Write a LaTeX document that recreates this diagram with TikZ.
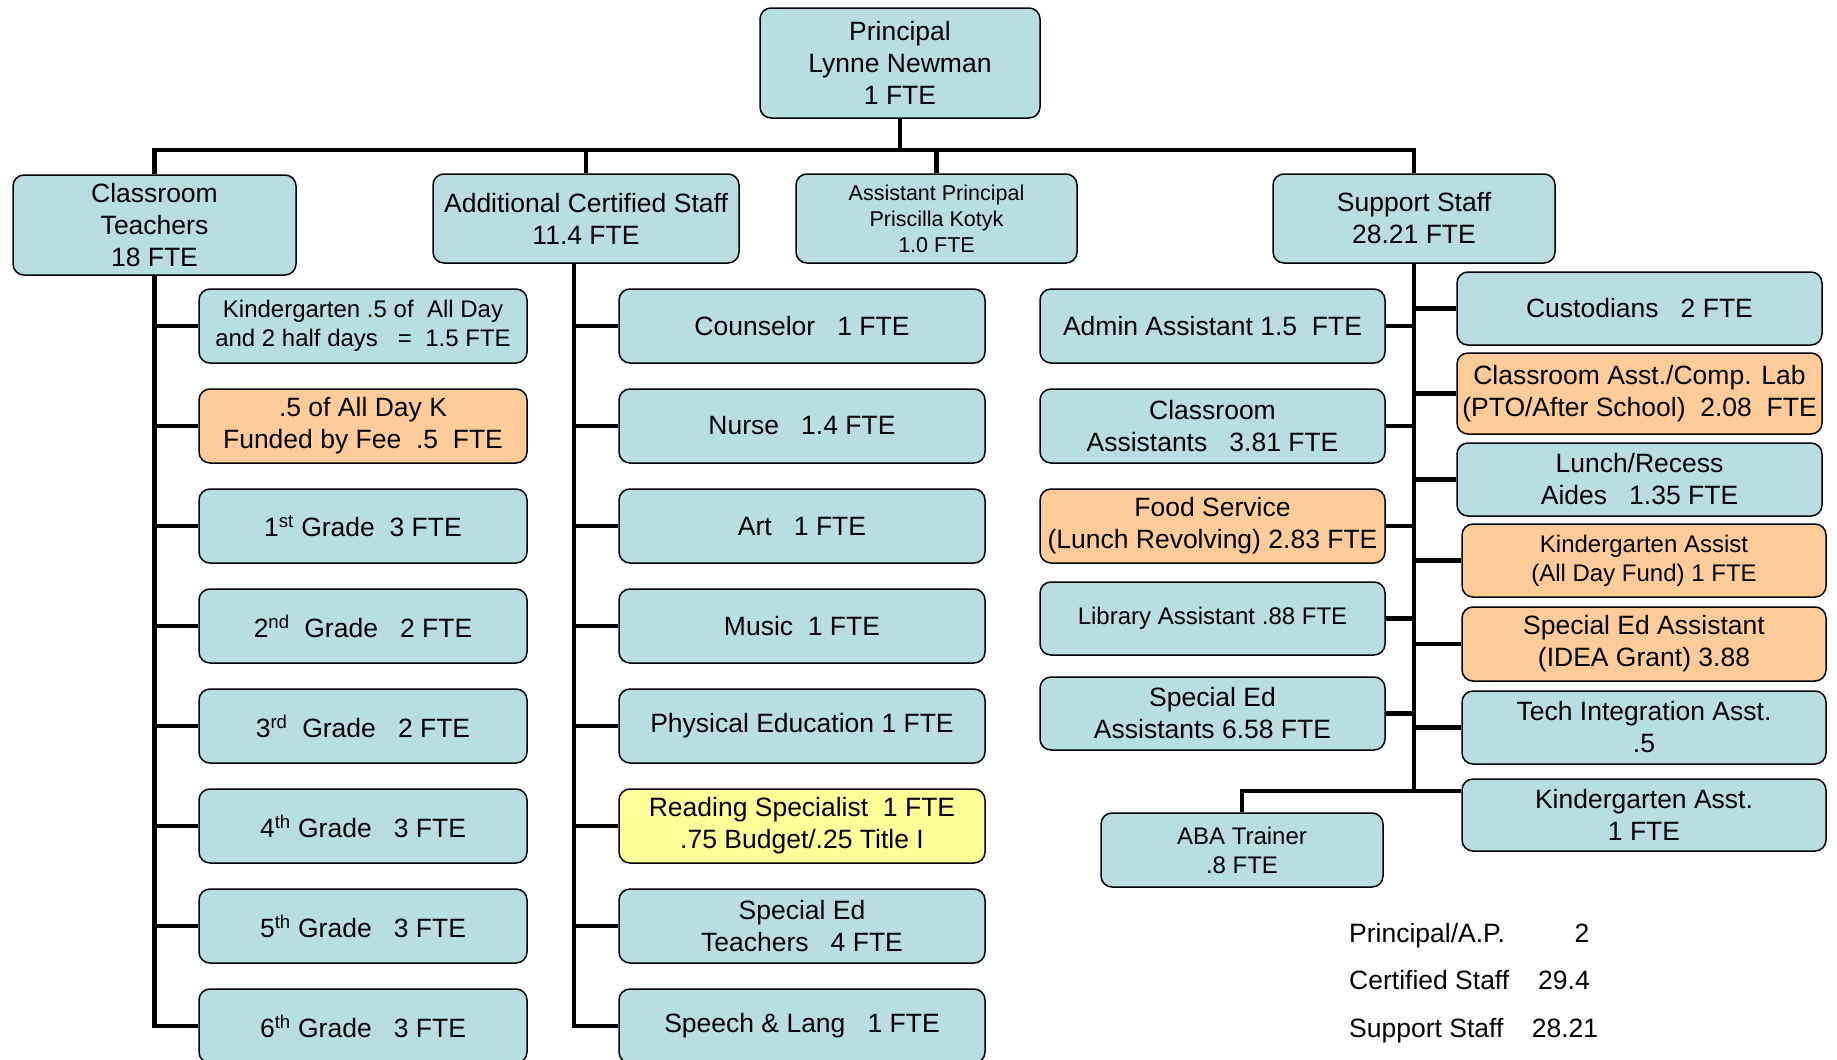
\documentclass[tikz,border=0pt]{standalone}
\usepackage{fontspec}
\setmainfont{Liberation Sans}
\definecolor{boxteal}{RGB}{185,222,226}
\definecolor{boxorange}{RGB}{255,204,153}
\definecolor{boxyellow}{RGB}{255,255,153}

\begin{document}
\begin{tikzpicture}[x=1pt, y=-1pt,
        box/.style={draw, line width=1.5pt, rounded corners=11pt, fill=boxteal, align=center, inner sep=0pt, font=\fontsize{26.5}{32}\selectfont},
        fee/.style={box, fill=boxorange},
        grant/.style={box, fill=boxyellow},
        small/.style={font=\fontsize{24}{29}\selectfont},
        link/.style={line width=4.5pt},
        total/.style={inner sep=0pt, font=\fontsize{26.5}{32}\selectfont}]
        \useasboundingbox (0,0) rectangle (1837,1060);

        \node [box, minimum width=280pt, minimum height=110pt] (P) at (900, 63) {Principal\\Lynne Newman\\1 FTE};

        \node [box, minimum width=283pt, minimum height=100pt] (CT) at (154.5, 225) {Classroom\\Teachers\\18 FTE};
        \node [box, minimum width=306pt, minimum height=89pt] (ACS) at (586, 218.5) {Additional Certified Staff\\11.4 FTE};
        \node [box, font=\fontsize{21.5}{26}\selectfont, minimum width=281pt, minimum height=89pt] (AP) at (936.5, 218.5) {Assistant Principal\\Priscilla Kotyk\\1.0 FTE};
        \node [box, minimum width=282pt, minimum height=89pt] (SS) at (1414, 218.5) {Support Staff\\28.21 FTE};

        \node [box, small, minimum width=328pt, minimum height=74pt] (C1) at (363, 326) {Kindergarten .5 of~~All Day\\and 2 half days~~~=~~1.5 FTE};
        \node [fee, minimum width=328pt, minimum height=74pt] (C2) at (363, 426) {.5 of All Day K\\Funded by Fee~~.5~~FTE};
        \node [box, minimum width=328pt, minimum height=74pt] (C3) at (363, 526) {1\textsuperscript{st} Grade~~3 FTE};
        \node [box, minimum width=328pt, minimum height=74pt] (C4) at (363, 626) {2\textsuperscript{nd}~~Grade~~~2 FTE};
        \node [box, minimum width=328pt, minimum height=74pt] (C5) at (363, 726) {3\textsuperscript{rd}~~Grade~~~2 FTE};
        \node [box, minimum width=328pt, minimum height=74pt] (C6) at (363, 826) {4\textsuperscript{th} Grade~~~3 FTE};
        \node [box, minimum width=328pt, minimum height=74pt] (C7) at (363, 926) {5\textsuperscript{th} Grade~~~3 FTE};
        \node [box, minimum width=328pt, minimum height=74pt] (C8) at (363, 1026) {6\textsuperscript{th} Grade~~~3 FTE};

        \node [box, minimum width=366pt, minimum height=74pt] (A1) at (802, 326) {Counselor~~~1 FTE};
        \node [box, minimum width=366pt, minimum height=74pt] (A2) at (802, 426) {Nurse~~~1.4 FTE};
        \node [box, minimum width=366pt, minimum height=74pt] (A3) at (802, 526) {Art~~~1 FTE};
        \node [box, minimum width=366pt, minimum height=74pt] (A4) at (802, 626) {Music~~1 FTE};
        \node [box, minimum width=366pt, minimum height=74pt] (A5) at (802, 726) {Physical Education 1 FTE};
        \node [grant, minimum width=366pt, minimum height=74pt] (A6) at (802, 826) {Reading Specialist~~1 FTE\\.75 Budget/.25 Title I};
        \node [box, minimum width=366pt, minimum height=74pt] (A7) at (802, 926) {Special Ed\\Teachers~~~4 FTE};
        \node [box, minimum width=366pt, minimum height=74pt] (A8) at (802, 1026) {Speech \& Lang~~~1 FTE};

        \node [box, minimum width=345pt, minimum height=74pt] (L1) at (1212.5, 326) {Admin Assistant 1.5~~FTE};
        \node [box, minimum width=345pt, minimum height=74pt] (L2) at (1212.5, 426) {Classroom\\Assistants~~~3.81 FTE};
        \node [fee, minimum width=345pt, minimum height=74pt] (L3) at (1212.5, 526) {Food Service\\(Lunch Revolving) 2.83 FTE};
        \node [box, small, minimum width=345pt, minimum height=73pt] (L4) at (1212.5, 618.5) {Library Assistant .88 FTE};
        \node [box, minimum width=345pt, minimum height=73pt] (L5) at (1212.5, 713.5) {Special Ed\\Assistants 6.58 FTE};

        \node [box, minimum width=365pt, minimum height=73pt] (R1) at (1639.5, 308.5) {Custodians~~~2 FTE};
        \node [fee, minimum width=365pt, minimum height=81pt] (R2) at (1639.5, 393.5) {Classroom Asst./Comp. Lab\\(PTO/After School)~~2.08~~FTE};
        \node [box, minimum width=365pt, minimum height=73pt] (R3) at (1639.5, 479.5) {Lunch/Recess\\Aides~~~1.35 FTE};
        \node [fee, small, minimum width=364pt, minimum height=73pt] (R4) at (1644, 560.5) {Kindergarten Assist\\(All Day Fund) 1 FTE};
        \node [fee, minimum width=364pt, minimum height=74pt] (R5) at (1644, 644) {Special Ed Assistant\\(IDEA Grant) 3.88};
        \node [box, minimum width=364pt, minimum height=73pt] (R6) at (1644, 727.5) {Tech Integration Asst.\\.5};
        \node [box, minimum width=364pt, minimum height=72pt] (R7) at (1644, 815) {Kindergarten Asst.\\1 FTE};

        \node [box, small, minimum width=282pt, minimum height=74pt] (ABA) at (1242, 850) {ABA Trainer\\.8 FTE};

        \coordinate (bus) at (900, 150);
        \coordinate (acs) at ([xshift=-12pt]ACS.south);
        \coordinate (sr7in) at ([yshift=24pt]R7.west);

        \draw [link] (P) -- (bus);
        \draw [link] (CT) |- (bus) -| (SS);
        \draw [link] (ACS) -- (ACS |- bus);
        \draw [link] (AP) -- (AP |- bus);

        \draw [link] (CT) |- (C8);
        \draw [link] (CT |- C1) -- (C1);
        \draw [link] (CT |- C2) -- (C2);
        \draw [link] (CT |- C3) -- (C3);
        \draw [link] (CT |- C4) -- (C4);
        \draw [link] (CT |- C5) -- (C5);
        \draw [link] (CT |- C6) -- (C6);
        \draw [link] (CT |- C7) -- (C7);

        \draw [link] (acs) |- (A8);
        \draw [link] (acs |- A1) -- (A1);
        \draw [link] (acs |- A2) -- (A2);
        \draw [link] (acs |- A3) -- (A3);
        \draw [link] (acs |- A4) -- (A4);
        \draw [link] (acs |- A5) -- (A5);
        \draw [link] (acs |- A6) -- (A6);
        \draw [link] (acs |- A7) -- (A7);

        \draw [link] (SS) |- (sr7in);
        \draw [link] (ABA) |- (SS |- sr7in);
        \draw [link] (L1) -- (SS |- L1);
        \draw [link] (L2) -- (SS |- L2);
        \draw [link] (L3) -- (SS |- L3);
        \draw [link] (L4) -- (SS |- L4);
        \draw [link] (L5) -- (SS |- L5);
        \draw [link] (SS |- R1) -- (R1);
        \draw [link] (SS |- R2) -- (R2);
        \draw [link] (SS |- R3) -- (R3);
        \draw [link] (SS |- R4) -- (R4);
        \draw [link] (SS |- R5) -- (R5);
        \draw [link] (SS |- R6) -- (R6);

        \node [total, anchor=base west] (T1) at (1349, 942) {Principal/A.P.};
        \node [total, anchor=base] (V1) at (1582, 942) {2};
        \node [total, anchor=base west] (T2) at (1349, 989) {Certified Staff};
        \node [total, anchor=base] (V2) at (1564, 989) {29.4};
        \node [total, anchor=base west] (T3) at (1349, 1037) {Support Staff};
        \node [total, anchor=base] (V3) at (1565, 1037) {28.21};
    \end{tikzpicture}
\end{document}
